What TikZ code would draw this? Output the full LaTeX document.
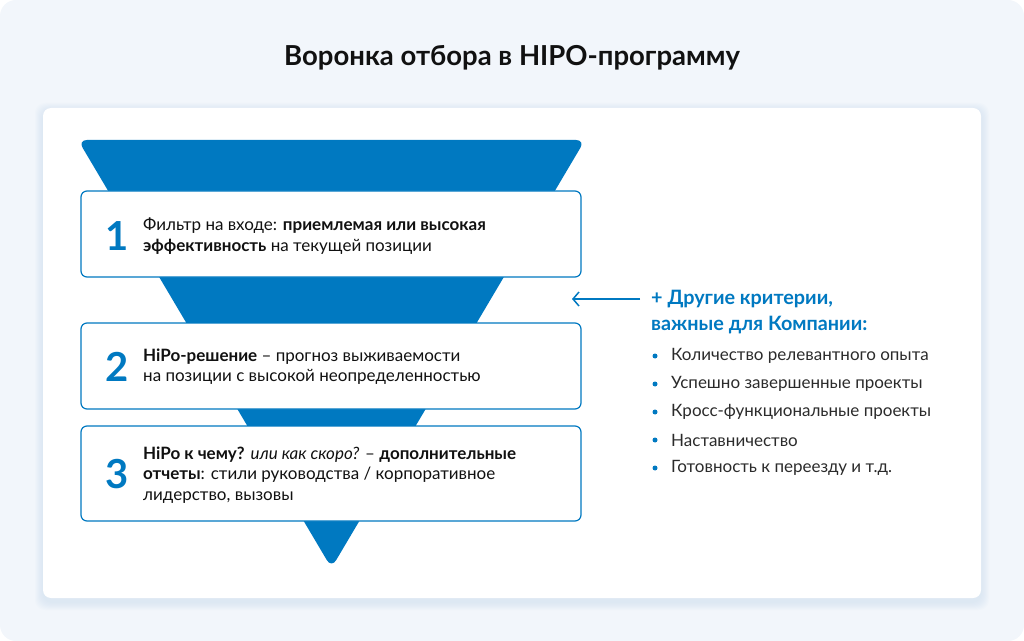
\documentclass[tikz,border=0pt]{standalone}
\usepackage{fontspec}
\setmainfont{Lato}
\usetikzlibrary{arrows.meta}

\definecolor{pagebg}{HTML}{F2F6FB}
\definecolor{glow}{HTML}{C9DDF0}
\definecolor{funnelblue}{HTML}{0079C1}
\definecolor{inktext}{HTML}{111111}
\definecolor{greytext}{HTML}{2B2B2B}

\tikzset{
  stagebox/.style={draw=funnelblue, line width=1.2bp, fill=white, rounded corners=6bp,
    minimum width=500bp, inner sep=0pt},
  stagenum/.style={text=funnelblue, font=\fontsize{40bp}{40bp}\selectfont\bfseries, inner sep=0pt},
  stagetext/.style={text=inktext, font=\fontsize{17bp}{20.5bp}\selectfont, align=left, anchor=west, inner sep=0pt},
  crithead/.style={text=funnelblue, font=\fontsize{19.8bp}{22bp}\selectfont\bfseries, anchor=west, inner sep=0pt},
  critem/.style={text=greytext, font=\fontsize{17bp}{18bp}\selectfont, anchor=west, inner sep=0pt},
  critdot/.style={circle, fill=funnelblue, minimum size=5bp, inner sep=0pt},
}

\begin{document}
\begin{tikzpicture}[x=1bp, y=-1bp]
\useasboundingbox (0,0) rectangle (1024,641);
\fill[pagebg, rounded corners=16bp] (0,0) rectangle (1024,641);

% title
\node[text=inktext, font=\fontsize{27.5bp}{30bp}\selectfont\bfseries] (title) at (512,58) {Воронка отбора в HIPO-программу};

% white panel with soft glow
\foreach \g in {1,...,8}
  \fill[glow, opacity=0.07, rounded corners=10bp] (43-\g,108-\g+3) rectangle (981+\g,598+\g+4);
\fill[white, rounded corners=8bp] (43,108) rectangle (981,598);

% funnel
\fill[funnelblue, rounded corners=9bp] (78,140) -- (585,140) -- (331.5,568) -- cycle;

% stages
\node[stagebox, minimum height=86bp] (stage1) at (331,234) {};
\node[stagebox, minimum height=86bp] (stage2) at (331,366) {};
\node[stagebox, minimum height=95bp] (stage3) at (331,473.5) {};

\node[stagenum] (num1) at (117,236) {1};
\node[stagenum] (num2) at (117,367) {2};
\node[stagenum] (num3) at (117,474) {3};

\node[stagetext] (text1) at (143,236) {Фильтр на входе: \textbf{приемлемая или высокая}\\\textbf{эффективность} на текущей позиции};
\node[stagetext] (text2) at (143,366.5) {\textbf{HiPo-решение} -- прогноз выживаемости\\на позиции с высокой неопределенностью};
\node[stagetext] (text3) at (143,475) {\textbf{HiPo к чему?} \textit{или как скоро?} -- \textbf{дополнительные}\\\textbf{отчеты}: стили руководства / корпоративное\\лидерство, вызовы};

% other criteria
\node[crithead] (crit1) at (651,299) {+ Другие критерии,};
\node[crithead] (crit2) at (651,325) {важные для Компании:};
\coordinate (arrowtip) at (572,299);
\draw[funnelblue, line width=1.5bp, -{Straight Barb[length=6bp, width=14bp]}] ([xshift=-11bp]crit1.west) -- (arrowtip);

\foreach \t [count=\i] in {Количество релевантного опыта, Успешно завершенные проекты,
    Кросс-функциональные проекты, Наставничество, Готовность к переезду и т.д.} {
  \node[critdot] (dot\i) at (655,356+28*\i-28) {};
  \node[critem] (item\i) at (671,356+28*\i-28) {\t};
}
\end{tikzpicture}
\end{document}
